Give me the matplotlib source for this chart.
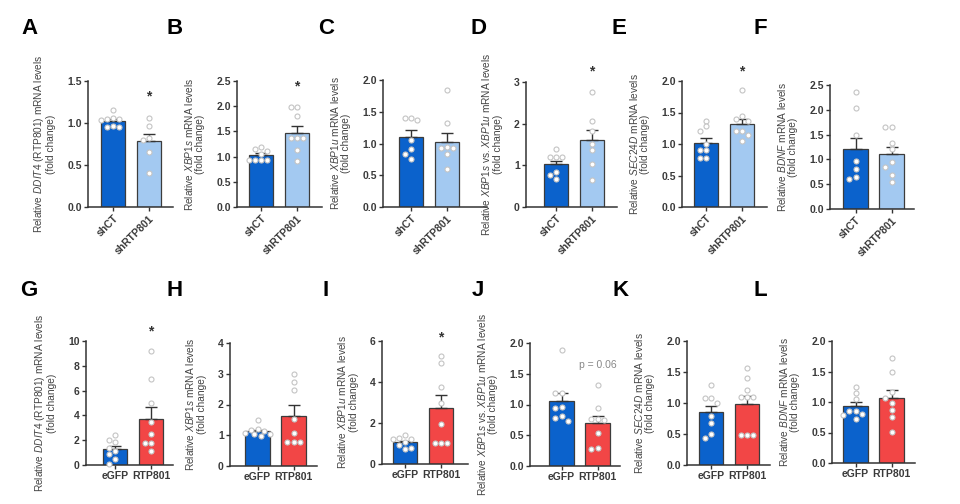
import matplotlib
matplotlib.use("Agg")
import matplotlib.pyplot as plt
import numpy as np

plt.rcParams['font.family'] = ['Liberation Sans', 'DejaVu Sans']
plt.rcParams['mathtext.fontset'] = 'custom'
plt.rcParams['mathtext.rm'] = 'Liberation Sans'
plt.rcParams['mathtext.it'] = 'Liberation Sans:italic'

# ---------------- data ----------------
top_groups = ["shCT", "shRTP801"]
bottom_groups = ["eGFP", "RTP801"]

A_means = [1.02, 0.79]; A_sems = [0.03, 0.08]
A_ctrl = [1.15, 1.06, 1.05, 1.05, 1.04, 0.96, 0.95, 0.95]
A_trt = [1.06, 0.96, 0.82, 0.80, 0.65, 0.41]

B_means = [1.03, 1.47]; B_sems = [0.04, 0.14]
B_ctrl = [1.20, 1.15, 1.12, 1.05, 0.93, 0.93, 0.93, 0.93]
B_trt = [1.99, 1.99, 1.81, 1.36, 1.36, 1.36, 1.14, 0.91]

C_means = [1.11, 1.02]; C_sems = [0.10, 0.15]
C_ctrl = [1.40, 1.37, 1.40, 1.05, 0.91, 0.84, 0.76]
C_trt = [1.84, 1.32, 0.95, 0.93, 0.93, 0.83, 0.60]

D_means = [1.03, 1.60]; D_sems = [0.08, 0.24]
D_ctrl = [1.40, 1.19, 1.19, 1.19, 0.83, 0.77, 0.67]
D_trt = [2.76, 2.06, 1.83, 1.52, 1.36, 1.03, 0.66]

E_means = [1.02, 1.31]; E_sems = [0.08, 0.09]
E_ctrl = [1.37, 1.28, 1.20, 1.00, 0.90, 0.90, 0.78, 0.78]
E_trt = [1.85, 1.44, 1.40, 1.37, 1.20, 1.20, 1.14, 1.05]

F_means = [1.20, 1.10]; F_sems = [0.23, 0.16]
F_ctrl = [2.35, 2.03, 1.49, 0.96, 0.81, 0.65, 0.60]
F_trt = [1.66, 1.66, 1.33, 1.21, 0.94, 0.84, 0.69, 0.55]

G_means = [1.27, 3.68]; G_sems = [0.29, 0.97]
G_ctrl = [2.45, 2.00, 1.85, 1.40, 1.10, 0.85, 0.50, 0.12]
G_trt = [9.20, 6.90, 5.00, 3.50, 2.50, 1.80, 1.80, 1.15]

H_means = [1.13, 1.63]; H_sems = [0.05, 0.34]
H_ctrl = [1.50, 1.20, 1.18, 1.15, 1.08, 1.05, 1.03, 0.98]
H_trt = [3.00, 2.73, 2.46, 1.52, 1.07, 0.78, 0.78, 0.78]

I_means = [1.05, 2.75]; I_sems = [0.08, 0.61]
I_ctrl = [1.40, 1.25, 1.22, 1.20, 1.05, 0.95, 0.80, 0.75]
I_trt = [5.27, 4.95, 3.74, 3.00, 1.96, 1.02, 1.02, 1.02]

J_means = [1.05, 0.70]; J_sems = [0.13, 0.12]
J_ctrl = [1.88, 1.19, 1.19, 0.96, 0.94, 0.81, 0.78, 0.73]
J_trt = [1.31, 0.94, 0.77, 0.76, 0.75, 0.54, 0.29, 0.28]

K_means = [0.85, 0.98]; K_sems = [0.10, 0.13]
K_ctrl = [1.29, 1.08, 1.08, 1.00, 0.79, 0.67, 0.50, 0.43]
K_trt = [1.57, 1.41, 1.21, 1.10, 1.10, 1.10, 0.49, 0.49, 0.49]

L_means = [0.93, 1.06]; L_sems = [0.07, 0.13]
L_ctrl = [1.25, 1.15, 1.05, 0.85, 0.85, 0.80, 0.78, 0.72]
L_trt = [1.72, 1.50, 1.16, 1.07, 0.98, 0.87, 0.75, 0.51]

ylabels = {
    "A": r"Relative $\mathit{DDIT4}$ (RTP801) mRNA levels" + "\n(fold change)",
    "B": r"Relative $\mathit{XBP1s}$ mRNA levels" + "\n(fold change)",
    "C": r"Relative $\mathit{XBP1u}$ mRNA levels" + "\n(fold change)",
    "D": r"Relative $\mathit{XBP1s}$ vs. $\mathit{XBP1u}$ mRNA levels" + "\n(fold change)",
    "E": r"Relative $\mathit{SEC24D}$ mRNA levels" + "\n(fold change)",
    "F": r"Relative $\mathit{BDNF}$ mRNA levels" + "\n(fold change)",
}
ylabels["G"] = ylabels["A"]; ylabels["H"] = ylabels["B"]; ylabels["I"] = ylabels["C"]
ylabels["J"] = ylabels["D"]; ylabels["K"] = ylabels["E"]; ylabels["L"] = ylabels["F"]

yticks = {
    "A": [0, 0.5, 1.0, 1.5], "B": [0, 0.5, 1.0, 1.5, 2.0, 2.5], "C": [0, 0.5, 1.0, 1.5, 2.0],
    "D": [0, 1, 2, 3], "E": [0, 0.5, 1.0, 1.5, 2.0], "F": [0, 0.5, 1.0, 1.5, 2.0, 2.5],
    "G": [0, 2, 4, 6, 8, 10], "H": [0, 1, 2, 3, 4], "I": [0, 2, 4, 6],
    "J": [0, 0.5, 1.0, 1.5, 2.0], "K": [0, 0.5, 1.0, 1.5, 2.0], "L": [0, 0.5, 1.0, 1.5, 2.0],
}
stars = {"A": 1.32, "B": 2.40, "D": 3.25, "E": 2.15, "G": 10.75, "I": 6.19}
pnote = ("J", "p = 0.06", 1.65)

# ---------------- layout (pixels) ----------------
W, H = 960, 504
# left spine, right end, top, bottom(y=0), first bar centre
geom = {
    "A": (88, 173, 81, 207, 113), "B": (237, 322, 81, 207, 261),
    "C": (383, 487, 80, 207, 411), "D": (526, 617, 82, 207, 556),
    "E": (682, 767, 81, 207, 706), "F": (830, 914, 85, 209, 855.5),
    "G": (86, 173, 341, 465, 115), "H": (230, 317, 343, 466, 257.5),
    "I": (382, 468, 341, 464, 405), "J": (530, 620, 343, 466, 561.5),
    "K": (687, 770, 341, 465, 711), "L": (832, 915, 341, 463, 855.5),
}
letter_pos = {
    "A": (29, 29), "B": (175, 29), "C": (326, 29), "D": (478, 29), "E": (619, 29), "F": (760, 29),
    "G": (29, 290), "H": (175, 290), "I": (326, 290), "J": (478, 290), "K": (621, 290), "L": (760, 290),
}
UNIT = 36.0
BARW = 0.67
dark = "#333333"
c_ctrl = "#0b62cc"
c_kd = "#a3c9f1"
c_oe = "#f24646"

data = {
    "A": (A_means, A_sems, A_ctrl, A_trt), "B": (B_means, B_sems, B_ctrl, B_trt),
    "C": (C_means, C_sems, C_ctrl, C_trt), "D": (D_means, D_sems, D_ctrl, D_trt),
    "E": (E_means, E_sems, E_ctrl, E_trt), "F": (F_means, F_sems, F_ctrl, F_trt),
    "G": (G_means, G_sems, G_ctrl, G_trt), "H": (H_means, H_sems, H_ctrl, H_trt),
    "I": (I_means, I_sems, I_ctrl, I_trt), "J": (J_means, J_sems, J_ctrl, J_trt),
    "K": (K_means, K_sems, K_ctrl, K_trt), "L": (L_means, L_sems, L_ctrl, L_trt),
}


def swarm(vals, px_per_unit_y, d=6.2, thr=5.6):
    order = sorted(range(len(vals)), key=lambda i: -vals[i])
    placed = []
    res = [0.0] * len(vals)
    for i in order:
        y = vals[i] * px_per_unit_y
        best, best_gap = 0.0, -1.0
        for k in [0, -1, 1, -2, 2, -0.5, 0.5, -1.5, 1.5]:
            x = k * d
            gap = min([((x - px) ** 2 + (y - py) ** 2) ** 0.5 for px, py in placed] or [99])
            if gap >= thr:
                best = x
                break
            if gap > best_gap:
                best, best_gap = x, gap
        placed.append((best, y))
        res[i] = best / UNIT
    return res


fig = plt.figure(figsize=(W / 100, H / 100), dpi=100)

for key, (l, r, t, b, c0) in geom.items():
    ax = fig.add_axes([l / W, 1 - b / H, (r - l) / W, (b - t) / H])
    means, sems, ctrl, trt = data[key]
    top = key in "ABCDEF"
    colors = [c_ctrl, c_kd if top else c_oe]
    ymax = yticks[key][-1]
    ax.set_xlim((l - c0) / UNIT, (r - c0) / UNIT)
    ax.set_ylim(0, ymax)
    xs = [0, 1]
    ax.bar(xs, means, width=BARW, color=colors, edgecolor="#3c3c3c", linewidth=0.9, zorder=2)
    ax.errorbar(xs, means, yerr=[[0, 0], sems], fmt="none", ecolor=dark,
                elinewidth=1.0, capsize=4, capthick=1.0, zorder=3)
    pxu = (b - t) / ymax
    for xi, pts in zip(xs, [ctrl, trt]):
        offs = swarm(pts, pxu)
        ax.plot([xi + o for o in offs], pts, "o", ms=3.6, mfc="white",
                mec="#c4c4c4", mew=0.8, zorder=4, clip_on=False)
    for s in ["top", "right"]:
        ax.spines[s].set_visible(False)
    for s in ["left", "bottom"]:
        ax.spines[s].set_color(dark)
        ax.spines[s].set_linewidth(1.1)
    ax.set_yticks(yticks[key])
    if ymax in (1.5, 2.0, 2.5):
        ax.set_yticklabels([f"{v:.1f}" for v in yticks[key]])
    else:
        ax.set_yticklabels([f"{v:g}" for v in yticks[key]])
    ax.set_xticks(xs)
    if top:
        ax.set_xticklabels(top_groups, rotation=45, ha="right", rotation_mode="anchor")
    else:
        ax.set_xticklabels(bottom_groups)
    ax.tick_params(axis="both", length=3, width=1.0, color=dark, labelsize=7.5,
                   labelcolor="#3a3a3a", pad=1.5)
    for lab in ax.get_xticklabels() + ax.get_yticklabels():
        lab.set_fontweight("bold")
    ax.set_ylabel(ylabels[key], fontsize=7.3, color="#444444", labelpad=8, linespacing=1.05)
    if key in stars:
        ax.text(1, stars[key], "*", ha="center", va="center", fontsize=10,
                fontweight="bold", color=dark, clip_on=False)
    if key == pnote[0]:
        ax.text(1, pnote[2], pnote[1], ha="center", va="center", fontsize=7.5,
                color="#888888")
    lx, ly = letter_pos[key]
    fig.text(lx / W, 1 - ly / H, key, fontsize=16, fontweight="bold",
             ha="center", va="center", color="black")

fig.savefig("out.png", dpi=100)
